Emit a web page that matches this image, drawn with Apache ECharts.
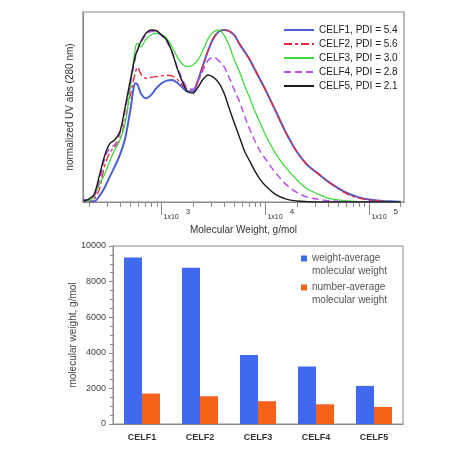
<!DOCTYPE html>
<html>
<head>
<meta charset="utf-8">
<script src="https://cdn.jsdelivr.net/npm/echarts@6/dist/echarts.min.js"></script>
<style>
html,body{margin:0;padding:0;background:#fff;}
#c{width:474px;height:470px;}
</style>
</head>
<body>
<div id="c"></div>
<script>
// ---- Top chart data: log10(molecular weight, g/mol) grid and normalized UV absorbance ----
var logMW = [2.25,2.30,2.35,2.40,2.45,2.50,2.55,2.60,2.65,2.70,2.75,2.77,2.80,2.85,2.90,2.95,3.00,3.05,3.10,3.15,3.20,3.25,3.30,3.35,3.40,3.45,3.50,3.55,3.60,3.65,3.70,3.75,3.80,3.85,3.90,3.95,4.00,4.10,4.20,4.30,4.40,4.50,4.60,4.70,4.80,4.90,5.00,5.10,5.20,5.30];
var celf1 = [0.014,0.006,0.004,0.033,0.081,0.145,0.207,0.275,0.371,0.536,0.691,0.681,0.633,0.603,0.623,0.662,0.691,0.706,0.710,0.694,0.667,0.642,0.642,0.706,0.797,0.884,0.952,0.990,1.000,0.994,0.971,0.919,0.874,0.826,0.768,0.710,0.652,0.526,0.400,0.294,0.217,0.168,0.120,0.081,0.048,0.027,0.014,0.008,0.004,0.002];
var celf2 = [0,0.002,0.017,0.072,0.207,0.284,0.323,0.362,0.478,0.623,0.758,0.783,0.745,0.720,0.725,0.729,0.733,0.737,0.733,0.714,0.681,0.656,0.652,0.710,0.797,0.884,0.952,0.990,1.000,0.994,0.971,0.919,0.874,0.826,0.768,0.710,0.652,0.526,0.400,0.294,0.217,0.168,0.120,0.077,0.043,0.023,0.012,0.006,0.002,0];
var celf3 = [0,0.004,0.033,0.101,0.159,0.236,0.304,0.362,0.458,0.671,0.903,0.923,0.903,0.946,0.973,0.981,0.975,0.952,0.903,0.845,0.803,0.787,0.795,0.826,0.884,0.952,0.990,1.000,0.971,0.911,0.826,0.758,0.675,0.603,0.526,0.458,0.391,0.280,0.197,0.130,0.077,0.048,0.023,0.012,0.006,0.002,0,0,0,0];
var celf4 = [0,0.014,0.033,0.120,0.246,0.313,0.333,0.400,0.536,0.691,0.845,0.888,0.926,0.973,0.992,0.990,0.967,0.932,0.874,0.787,0.714,0.662,0.656,0.700,0.768,0.826,0.841,0.822,0.787,0.725,0.652,0.584,0.497,0.420,0.352,0.294,0.250,0.168,0.101,0.056,0.029,0.017,0.008,0.004,0.002,0,0,0,0,0];
var celf5 = [0.006,0.017,0.043,0.149,0.265,0.338,0.362,0.410,0.555,0.710,0.855,0.884,0.932,0.981,1.000,0.996,0.971,0.942,0.874,0.778,0.700,0.642,0.633,0.667,0.714,0.739,0.725,0.694,0.636,0.547,0.460,0.377,0.294,0.236,0.178,0.130,0.095,0.043,0.017,0.006,0.002,0,0,0,0,0,0,0,0,0];
var lineNames = ['CELF1, PDI = 5.4','CELF2, PDI = 5.6','CELF3, PDI = 3.0','CELF4, PDI = 2.8','CELF5, PDI = 2.1'];
// tick positions (g/mol)
var minorTickMW = [200,300,400,500,600,700,800,900,2000,3000,4000,5000,6000,7000,8000,9000,20000,30000,40000,50000,60000,70000,80000,90000,200000];
var majorTickMW = [1000,10000,100000];

// ---- Bottom chart data ----
var samples = ['CELF1','CELF2','CELF3','CELF4','CELF5'];
var mw = [9360,8780,3880,3230,2140];
var mn = [1710,1560,1280,1110,960];
var barNames = ['weight-average\nmolecular weight','number-average\nmolecular weight'];

function pairs(ys){ return logMW.map(function(x,i){ return [x, ys[i]]; }); }
function lg(arr){ return arr.map(function(v){ return Math.log10(v); }); }

var FONT = 'Liberation Sans, Arial, sans-serif';
var gray = '#8a8a8a';
var lineCfg = [
  {data: celf1, color:'#4a5fd8', width:2, type:'solid'},
  {data: celf2, color:'#e8283c', width:1.4, type:[8,3,3,3]},
  {data: celf3, color:'#3ddc3d', width:1.3, type:'solid'},
  {data: celf4, color:'#b84ff0', width:1.5, type:[7,4]},
  {data: celf5, color:'#1a1a1a', width:1.4, type:'solid'}
];

var series = lineCfg.map(function(c,i){
  return {
    name: lineNames[i], type:'line', xAxisIndex:0, yAxisIndex:0,
    data: pairs(c.data), smooth:0.35, symbol:'none',
    lineStyle:{color:c.color, width:c.width, type:c.type},
    itemStyle:{color:c.color}, z: (i===0 ? 4 : 5)
  };
});
series.push({name: barNames[0], type:'bar', xAxisIndex:2, yAxisIndex:1, data: mw, barWidth:18, barGap:'0%', itemStyle:{color:'#4169ef'}});
series.push({name: barNames[1], type:'bar', xAxisIndex:2, yAxisIndex:1, data: mn, barWidth:18, barGap:'0%', itemStyle:{color:'#f5631b'}});

var sqIcon = 'path://M0,0 L0.01,0 M0,3.5 L6,3.5 L6,9.5 L0,9.5 Z M0,26 L0.01,26';

var chart = echarts.init(document.getElementById('c'), null, {renderer:'canvas'});
chart.setOption({
  animation:false,
  backgroundColor:'#fff',
  textStyle:{fontFamily:FONT},
  grid:[
    {left:83, top:12, width:321, height:190, show:true, borderColor:gray, borderWidth:1.2, backgroundColor:'transparent'},
    {left:113, top:246, width:290, height:178, show:true, borderColor:gray, borderWidth:1, backgroundColor:'transparent'}
  ],
  legend:[
    {data: lineNames, orient:'vertical', left:283, top:25, padding:0, itemGap:4, itemWidth:30, itemHeight:10,
     itemStyle:{opacity:0},
     textStyle:{fontSize:10, color:'#222', fontFamily:FONT}},
    {data: barNames, orient:'vertical', left:301, top:252, padding:0, itemGap:3, itemWidth:6, itemHeight:26, icon:sqIcon,
     textStyle:{fontSize:10, color:'#555', lineHeight:13, fontFamily:FONT}}
  ],
  xAxis:[
    {type:'value', gridIndex:0, min:2.244, max:5.333, position:'bottom',
     name:'Molecular Weight, g/mol', nameLocation:'middle', nameGap:23, nameMoveOverlap:false,
     nameTextStyle:{fontSize:10, color:'#333', fontFamily:FONT},
     axisLine:{show:true, lineStyle:{color:gray, width:1.2}},
     axisTick:{show:true, length:5, customValues: lg(minorTickMW), lineStyle:{color:gray}},
     axisLabel:{show:false}, splitLine:{show:false}},
    {type:'value', gridIndex:0, min:2.244, max:5.333, position:'bottom',
     axisLine:{show:false},
     axisTick:{show:true, length:13, customValues: lg(majorTickMW), lineStyle:{color:gray}},
     axisLabel:{show:true, customValues: lg(majorTickMW), align:'left', margin:6,
       formatter:function(v){ return '{a|1x10}{b|' + Math.round(v) + '}'; },
       rich:{a:{fontSize:7, color:'#333', padding:[6,0,0,2], fontFamily:FONT},
             b:{fontSize:8, color:'#333', padding:[0,0,0,7], verticalAlign:'top', fontFamily:FONT}}},
     splitLine:{show:false}},
    {type:'category', gridIndex:1, data:samples,
     axisLine:{lineStyle:{color:gray}}, axisTick:{show:false},
     axisLabel:{fontSize:9, fontWeight:'bold', color:'#333', margin:9, fontFamily:FONT}}
  ],
  yAxis:[
    {type:'value', gridIndex:0, min:0, max:1.105,
     name:'normalized UV abs (280 nm)', nameLocation:'middle', nameGap:8, nameMoveOverlap:false,
     nameTextStyle:{fontSize:10, color:'#333', fontFamily:FONT},
     axisLine:{show:true, lineStyle:{color:gray, width:1.2}}, axisTick:{show:false},
     axisLabel:{show:false}, splitLine:{show:false}},
    {type:'value', gridIndex:1, min:0, max:10000, interval:2000,
     name:'molecular weight, g/mol', nameLocation:'middle', nameGap:35, nameMoveOverlap:false,
     nameTextStyle:{fontSize:10, color:'#444', fontFamily:FONT},
     axisLine:{show:true, lineStyle:{color:gray}},
     axisTick:{show:true, length:4, lineStyle:{color:gray}},
     minorTick:{show:true, splitNumber:4, length:3, lineStyle:{color:gray}},
     axisLabel:{fontSize:9, color:'#444', margin:7, fontFamily:FONT, formatter:function(v){ return String(v); }},
     splitLine:{show:false}}
  ],
  series: series
});
</script>
</body>
</html>
